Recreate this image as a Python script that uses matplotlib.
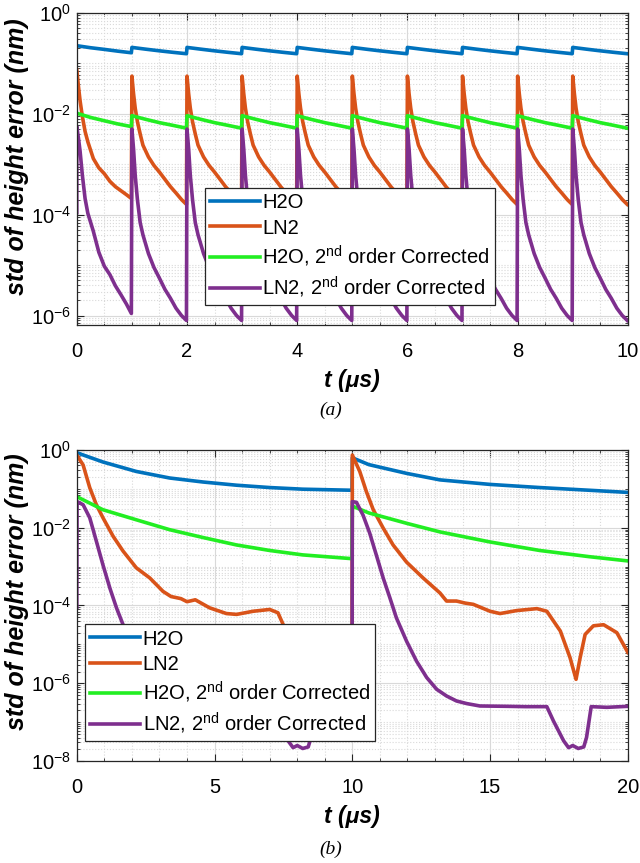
import numpy as np
import matplotlib
matplotlib.use("Agg")
import matplotlib.pyplot as plt
from matplotlib.ticker import LogLocator, MultipleLocator, NullFormatter

plt.rcParams['font.family'] = ['Liberation Sans', 'DejaVu Sans']
plt.rcParams['mathtext.fontset'] = 'custom'
plt.rcParams['mathtext.rm'] = 'Liberation Sans'
plt.rcParams['mathtext.it'] = 'Liberation Sans:italic'

# ---- data: panel (a), one pulse every 1 us, 10 pulses ----
n_pulses_a = 10
pulse_period_a = 1.0
fast_offsets_a = [0, 0.03, 0.06, 0.1, 0.15, 0.2, 0.3, 0.4, 0.5, 0.6, 0.7, 0.8, 0.9, 0.99]
slow_offsets_a = [0, 0.25, 0.5, 0.75, 0.99]

h2o_first_a = [0.225, 0.205, 0.19, 0.175, 0.163]
h2o_cycle_a = [0.208, 0.192, 0.178, 0.166, 0.156]
h2o_corr_first_a = [0.0103, 0.0085, 0.0073, 0.0063, 0.0056]
h2o_corr_cycle_a = [0.0092, 0.0078, 0.0067, 0.0059, 0.0052]
ln2_first_a = [0.074, 0.035, 0.018, 0.009, 0.0045, 0.0028, 0.0013, 8.5e-4,
               6.5e-4, 4.6e-4, 3.6e-4, 3.0e-4, 2.5e-4, 2.1e-4]
ln2_cycle_a = [0.056, 0.025, 0.013, 0.007, 0.004, 0.0024, 0.0014, 9.5e-4,
               7e-4, 5e-4, 3.6e-4, 2.7e-4, 2.0e-4, 1.6e-4]
ln2_corr_start_a = 1.1e-4
ln2_corr_first_a = [5.6e-3, 3.3e-3, 1.8e-3, 6.2e-4, 2.1e-4, 1.07e-4, 4.7e-5,
                    1.8e-5, 9.5e-6, 6.5e-6, 3.9e-6, 2.6e-6, 1.7e-6, 1.1e-6]
ln2_corr_cycle_a = [5.0e-3, 2.0e-3, 6e-4, 2.0e-4, 7e-5, 4e-5, 1.7e-5, 9e-6,
                    5.5e-6, 3.3e-6, 2.2e-6, 1.4e-6, 1.0e-6, 8e-7]

# ---- data: panel (b), one pulse every 10 us, 2 pulses ----
t_h2o_b = [0, 0.95, 2.16, 3.37, 4.58, 5.8, 7.0, 8.2, 9.99,
           10.0, 10.6, 11.97, 13.18, 15.0, 16.8, 18.6, 20.0]
h2o_b = [0.85, 0.49, 0.28, 0.19, 0.15, 0.124, 0.108, 0.098, 0.092,
         0.63, 0.42, 0.25, 0.17, 0.13, 0.108, 0.092, 0.081]
h2o_corr_b = [0.063, 0.029, 0.016, 0.0089, 0.0056, 0.0036, 0.0026, 0.002, 0.0016,
              0.036, 0.024, 0.013, 0.0078, 0.0043, 0.0026, 0.0018, 0.0014]

t_ln2_b = [0, 0.23, 0.47, 0.71, 0.95, 1.32, 1.68, 2.16, 2.65, 3.13, 3.42, 3.78,
           4.0, 4.3, 4.82, 5.43, 5.8, 6.4, 7.0, 7.3, 7.55, 7.9, 8.12, 8.27, 8.45,
           8.75, 9.12, 9.6, 9.99,
           10.0, 10.27, 10.51, 10.76, 11.12, 11.48, 11.97, 12.57, 13.18, 13.42,
           13.78, 14.1, 14.39, 15.0, 15.36, 15.97, 16.7, 17.06, 17.55, 17.9,
           18.12, 18.27, 18.45, 18.75, 19.12, 19.6, 20.0]
ln2_b = [0.74, 0.41, 0.107, 0.039, 0.018, 0.006, 0.0025, 9.3e-4, 5.1e-4, 2.3e-4,
         1.7e-4, 1.5e-4, 1.25e-4, 1.4e-4, 8.7e-5, 6.2e-5, 5.9e-5, 7.1e-5, 7.9e-5,
         6.5e-5, 2.6e-5, 4.6e-6, 1.3e-6, 4.6e-6, 1.8e-5, 2.6e-5, 2.7e-5, 1.8e-5, 6.0e-6,
         0.74, 0.28, 0.085, 0.029, 0.0098, 0.0036, 0.0013, 5.1e-4, 2.1e-4, 1.3e-4,
         1.3e-4, 1.15e-4, 1.07e-4, 7.1e-5, 6.2e-5, 7.4e-5, 8.3e-5, 7.1e-5, 2.2e-5,
         4.6e-6, 1.26e-6, 4.6e-6, 1.8e-5, 3.0e-5, 3.2e-5, 2.0e-5, 6.2e-6]

t_ln2_corr_b = [0, 0.01, 0.23, 0.47, 0.71, 0.95, 1.2, 1.44, 1.68, 1.97, 2.33, 2.7,
                3.06, 3.42, 3.78, 4.15, 4.63, 5.6, 6.3, 7.06, 7.3, 7.67, 7.85, 8.0,
                8.2, 8.4, 8.5, 8.67, 9.24, 9.99,
                10.0, 10.15, 10.39, 10.63, 10.87, 11.12, 11.36, 11.6, 11.97, 12.33,
                12.7, 13.06, 13.42, 13.78, 14.15, 14.63, 15.6, 16.3, 17.06, 17.3,
                17.67, 17.85, 18.0, 18.2, 18.4, 18.5, 18.67, 19.24, 20.0]
ln2_corr_b = [9e-5, 0.047, 0.039, 0.018, 0.0045, 0.0011, 2.8e-4, 8.7e-5, 3.2e-5,
              1.2e-5, 3.7e-6, 1.4e-6, 7e-7, 4.7e-7, 3.5e-7, 3e-7, 2.6e-7, 2.55e-7,
              2.5e-7, 2.5e-7, 1.07e-7, 3.3e-8, 2.2e-8, 2.5e-8, 2.1e-8, 2.3e-8, 4e-8,
              2.5e-7, 2.4e-7, 2.5e-7,
              0.047, 0.045, 0.021, 0.0073, 0.002, 5.1e-4, 1.6e-4, 4.8e-5, 1.2e-5,
              3.7e-6, 1.4e-6, 7e-7, 4.7e-7, 3.5e-7, 3e-7, 2.6e-7, 2.55e-7, 2.5e-7,
              2.5e-7, 1.07e-7, 3.3e-8, 2.2e-8, 2.5e-8, 2.1e-8, 2.3e-8, 4e-8, 2.5e-7,
              2.4e-7, 2.55e-7]

labels = ['H2O', 'LN2',
          'H2O, 2$^{\\mathrm{nd}}$ order Corrected',
          'LN2, 2$^{\\mathrm{nd}}$ order Corrected']
colors = ['#0072BD', '#D95319', '#22EE22', '#7E2F8E']


def build_pulses(offsets, first, cycle):
    t, y = [], []
    for k in range(n_pulses_a):
        t.extend(k * pulse_period_a + np.asarray(offsets))
        y.extend(first if k == 0 else cycle)
    return np.array(t), np.array(y)


t_slow, h2o_a = build_pulses(slow_offsets_a, h2o_first_a, h2o_cycle_a)
_, h2o_corr_a = build_pulses(slow_offsets_a, h2o_corr_first_a, h2o_corr_cycle_a)
t_fast, ln2_a = build_pulses(fast_offsets_a, ln2_first_a, ln2_cycle_a)
_, ln2_corr_a = build_pulses(fast_offsets_a, ln2_corr_first_a, ln2_corr_cycle_a)
t_fast_corr = np.concatenate([[0.0], t_fast])
ln2_corr_a = np.concatenate([[ln2_corr_start_a], ln2_corr_a])


def style_axes(ax, xmax, xmajor, xminor, ymin, yticks, label_y):
    ax.set_yscale('log')
    ax.set_xlim(0, xmax)
    ax.set_ylim(ymin, 1)
    ax.set_yticks(yticks)
    ax.yaxis.set_minor_locator(LogLocator(base=10, subs=np.arange(1, 10), numticks=50))
    ax.yaxis.set_minor_formatter(NullFormatter())
    ax.xaxis.set_major_locator(MultipleLocator(xmajor))
    ax.xaxis.set_minor_locator(MultipleLocator(xminor))
    ax.grid(True, which='major', color='#d9d9d9', linewidth=0.8)
    ax.grid(True, which='minor', color='#d9d9d9', linestyle=':', linewidth=0.8)
    ax.tick_params(which='both', direction='in', top=True, right=True,
                   labelsize=14.5, colors='#262626', labelcolor='black')
    ax.tick_params(which='major', length=5)
    ax.tick_params(which='minor', length=2.5)
    ax.tick_params(axis='x', pad=12)
    ax.tick_params(axis='y', pad=4)
    for s in ax.spines.values():
        s.set_color('#262626')
        s.set_linewidth(0.9)
    ax.set_xlabel('t (μs)', fontsize=16.5, fontweight='bold', style='italic', labelpad=6)
    ax.set_ylabel('std of height error (nm)', fontsize=18, fontweight='bold',
                  style='italic')
    ax.yaxis.set_label_coords(-0.087, label_y)


fig = plt.figure(figsize=(6.4, 8.63), dpi=100)
ax1 = fig.add_axes([0.120, 0.6234, 0.861, 0.3615])
ax2 = fig.add_axes([0.120, 0.1182, 0.861, 0.3604])

lw = 2.6
ax1.plot(t_slow, h2o_a, color=colors[0], lw=lw, label=labels[0])
ax1.plot(t_fast, ln2_a, color=colors[1], lw=lw, label=labels[1])
ax1.plot(t_slow, h2o_corr_a, color=colors[2], lw=lw, label=labels[2])
ax1.plot(t_fast_corr, ln2_corr_a, color=colors[3], lw=lw, label=labels[3])
style_axes(ax1, 10, 2, 0.5, 6.5e-7, [1e-6, 1e-4, 1e-2, 1e0], 0.54)

ax2.plot(t_h2o_b, h2o_b, color=colors[0], lw=lw, label=labels[0])
ax2.plot(t_ln2_b, ln2_b, color=colors[1], lw=lw, label=labels[1])
ax2.plot(t_h2o_b, h2o_corr_b, color=colors[2], lw=lw, label=labels[2])
ax2.plot(t_ln2_corr_b, ln2_corr_b, color=colors[3], lw=lw, label=labels[3])
style_axes(ax2, 20, 5, 1, 1e-8, [1e-8, 1e-6, 1e-4, 1e-2, 1e0], 0.545)

for ax, anchor in [(ax1, (0.232, 0.064)), (ax2, (0.0145, 0.064))]:
    leg = ax.legend(loc='lower left', bbox_to_anchor=anchor, fontsize=14.5,
                    fancybox=False, framealpha=1, edgecolor='#262626',
                    borderpad=0.25, labelspacing=0.3, handlelength=2.5,
                    handletextpad=0.12, borderaxespad=0)
    leg.get_frame().set_linewidth(0.9)

fig.text(0.516, 0.524, '(a)', fontsize=14, style='italic',
         family='Liberation Serif', ha='center', va='center')
fig.text(0.516, 0.016, '(b)', fontsize=14, style='italic',
         family='Liberation Serif', ha='center', va='center')

fig.savefig('out.png', dpi=100)
